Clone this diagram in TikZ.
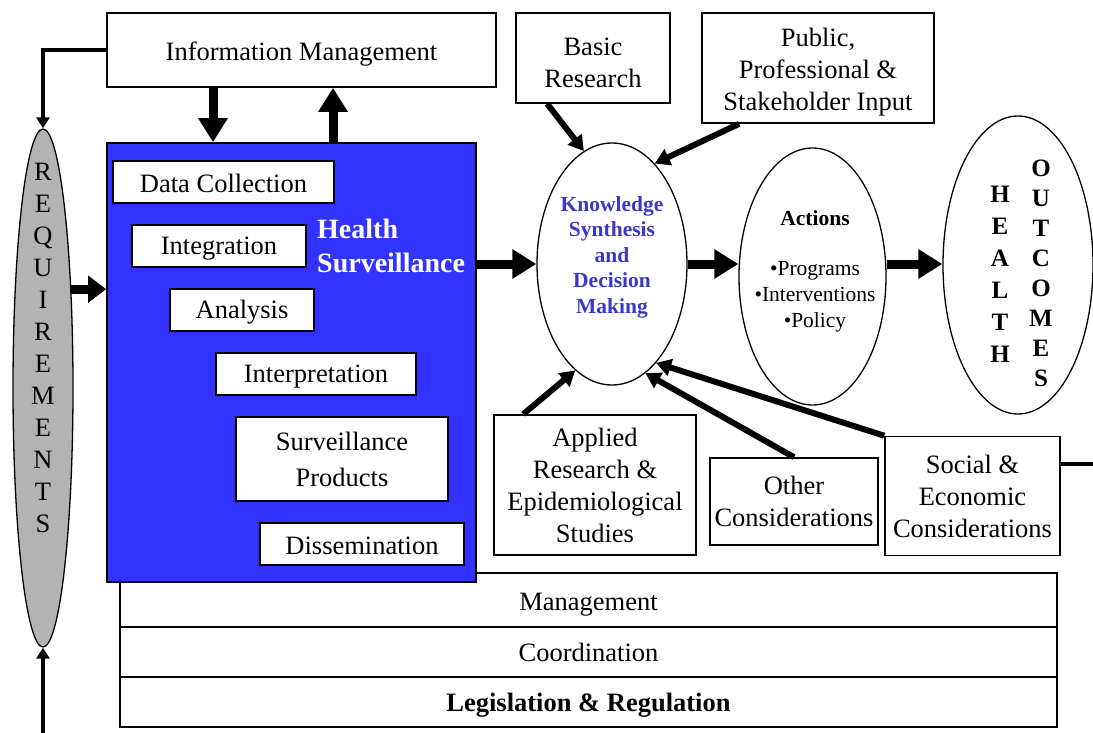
\documentclass[tikz,border=0pt]{standalone}
\usepackage{fontspec}
\setmainfont{Liberation Serif}
\usepackage{tikz}
\usetikzlibrary{arrows.meta,positioning,shapes.geometric}
\definecolor{SurvBlue}{HTML}{3333FF}
\definecolor{SurvGray}{HTML}{B3B3B3}
\definecolor{KnowBlue}{HTML}{3838CC}
\newcommand{\mainsize}{\fontsize{26.5}{32}\selectfont}
\newcommand{\topgap}{\rule{0pt}{27pt}}

\begin{document}
\begin{tikzpicture}[
    x=1pt, y=-1pt,
    box/.style={draw, line width=1.6pt, fill=white, align=center, inner sep=0pt, font=\mainsize},
    topbox/.style={box, execute at begin node={\topgap}},
    stage/.style={box, minimum height=42pt, execute at begin node={\rule{0pt}{22pt}}},
    bar/.style={box, outer sep=0pt, minimum width=937pt, minimum height=50pt},
    oval/.style={ellipse, draw, line width=1.3pt, inner sep=0pt},
    words/.style={inner sep=0pt, align=center},
    flow/.style={-{Triangle[length=24pt,width=28pt]}, line width=9pt},
    input/.style={-{Triangle[length=15pt,width=17pt]}, line width=6pt},
    feed/.style={-{Triangle[length=11pt,width=13pt]}, line width=4.5pt}
  ]
    \useasboundingbox (0,0) rectangle (1093,733);

    % support layers underneath
    \node[bar, minimum height=54pt, execute at begin node={\rule{0pt}{26pt}}] (mgmt) at (588.5,600) {Management};
    \node[bar, below=0pt of mgmt] (coord) {Coordination};
    \node[bar, below=0pt of coord, font=\mainsize\bfseries, execute at begin node={\rule{0pt}{24pt}}] (legis) {Legislation \& Regulation};

    \node[topbox, minimum width=389pt, minimum height=74pt] (info) at (301.5,50) {Information Management};
    \node[box, minimum width=154pt, minimum height=90pt] (basic) at (593,58) {\topgap Basic\\Research};
    \node[box, minimum width=232pt, minimum height=110pt] (public) at (818,68) {\topgap Public,\\Professional \&\\Stakeholder Input};

    \node[oval, fill=SurvGray, minimum width=60pt, minimum height=518pt] (req) at (43,388) {};
    \node[words, font=\mainsize] (reqtext) at (43,348) {R\\E\\Q\\U\\I\\R\\E\\M\\E\\N\\T\\S};

    % surveillance block and its stages
    \node[draw, line width=1.6pt, fill=SurvBlue, minimum width=369pt, minimum height=439pt] (surv) at (291.5,362.5) {};
    \node[stage, minimum width=221pt] (collect) at (223.5,182) {Data Collection};
    \node[stage, minimum width=174pt] (integ) at (219,246) {Integration};
    \node[stage, minimum width=144pt] (analysis) at (242,310) {Analysis};
    \node[stage, minimum width=200pt] (interp) at (316,374) {Interpretation};
    \node[stage, minimum width=212pt, minimum height=84pt, font=\fontsize{26.5}{36}\selectfont] (products) at (342,459) {Surveillance\\Products};
    \node[stage, minimum width=204pt] (dissem) at (362,544) {Dissemination};
    \node[words, anchor=west, align=left, text=white, font=\fontsize{28}{34}\selectfont\bfseries] (survtext) at (317,246) {Health\\Surveillance};

    \node[oval, minimum width=150pt, minimum height=242pt] (know) at (612,264) {};
    \node[words, text=KnowBlue, font=\fontsize{21.5}{25.5}\selectfont\bfseries] (knowtext) at (612,257) {Knowledge\\Synthesis\\and\\Decision\\Making};
    \node[oval, minimum width=147pt, minimum height=257pt] (actions) at (812.5,276.5) {};
    \node[words, font=\fontsize{21.5}{26}\selectfont] (acttext) at (815,271) {\textbf{Actions}\\[24pt]\textbullet Programs\\\textbullet Interventions\\\textbullet Policy};
    \node[oval, minimum width=150pt, minimum height=298pt] (outcomes) at (1018,265) {};
    \node[words, font=\fontsize{25}{32}\selectfont\bfseries] (health) at (1000,274) {H\\E\\A\\L\\T\\H};
    \node[words, font=\fontsize{25}{30}\selectfont\bfseries] (outtext) at (1041,273) {O\\U\\T\\C\\O\\M\\E\\S};

    \node[box, minimum width=202pt, minimum height=140pt] (applied) at (595,485) {Applied\\Research \&\\Epidemiological\\Studies};
    \node[box, minimum width=168pt, minimum height=87pt] (other) at (794,501.5) {Other\\Considerations};
    \node[box, minimum width=175pt, minimum height=119pt] (social) at (972.5,496) {Social \&\\Economic\\Considerations};

    % feedback into the requirements
    \coordinate (reqin) at (43,733);
    \draw[feed] (info.west) -| (req.north);
    \draw[feed] (reqin) -- (req.south);
    \draw[line width=9pt, -{Triangle[length=18pt,width=26pt]}] (req.74.7) -- (req.74.7 -| surv.west);

    \coordinate (downx) at ([xshift=-88.5pt]info.south);
    \coordinate (upx) at ([xshift=31.5pt]info.south);
    \draw[flow] (downx) -- (downx |- surv.north);
    \draw[flow] (upx |- surv.north) -- (upx);

    \draw[flow] (surv.east |- know.west) -- (know.west);
    \draw[flow] (know.east) -- (know.east -| actions.west);
    \draw[flow] (know.east -| actions.east) -- (know.east -| outcomes.west);

    \draw[input] ([xshift=32pt]basic.south west) -- (know.104.5);
    \draw[input] ([xshift=38pt]public.south west) -- (know.67);
    \draw[input] ([xshift=30pt]applied.north west) -- (know.251);
    \draw[input] (other.north) -- (know.287);
    \draw[input] (social.north west) -- (know.294);

    \coordinate (socout) at (1093,464);
    \draw[line width=3.5pt] (social.east |- socout) -- (socout);
  \end{tikzpicture}
\end{document}
